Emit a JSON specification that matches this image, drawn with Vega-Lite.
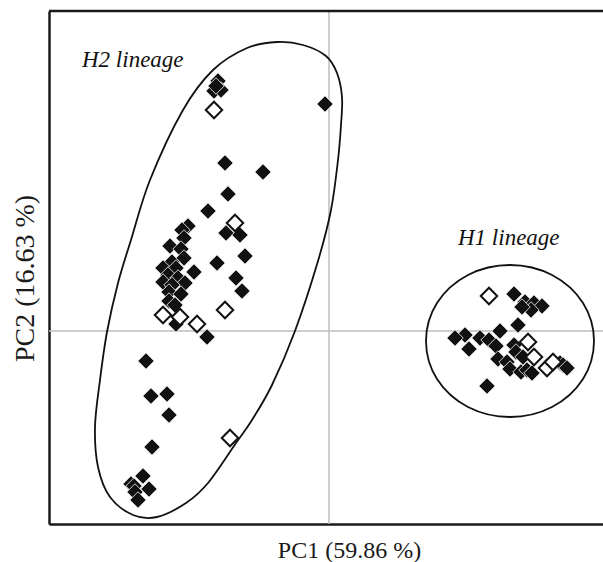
{
  "$schema": "https://vega.github.io/schema/vega-lite/v6.json",
  "width": 554,
  "height": 513,
  "autosize": {"type": "none"},
  "padding": {"left": 49, "top": 11, "right": 0, "bottom": 38},
  "background": "white",
  "config": {
    "view": {"stroke": null},
    "font": "Liberation Serif",
    "axis": {"ticks": false, "labels": false, "grid": false, "domainColor": "#1a1a1a", "domainWidth": 2.5,
      "titleFont": "Liberation Serif", "titleFontWeight": "normal", "titleColor": "#1a1a1a", "titleBaseline": "alphabetic", "titleAlign": "center"},
    "axisX": {"titleFontSize": 24, "titleX": 300, "titleY": 33},
    "axisY": {"titleFontSize": 28, "titleX": -16, "titleY": 267, "titleAngle": -90}
  },
  "datasets": {
    "pts": [
      {"x": -1.11, "y": 2.50, "type": "filled"},
      {"x": -1.15, "y": 2.40, "type": "filled"},
      {"x": -1.08, "y": 2.41, "type": "filled"},
      {"x": -1.13, "y": 2.45, "type": "filled"},
      {"x": -0.04, "y": 2.27, "type": "filled"},
      {"x": -1.04, "y": 1.68, "type": "filled"},
      {"x": -0.66, "y": 1.59, "type": "filled"},
      {"x": -1.01, "y": 1.37, "type": "filled"},
      {"x": -1.21, "y": 1.20, "type": "filled"},
      {"x": -1.03, "y": 0.98, "type": "filled"},
      {"x": -0.89, "y": 0.96, "type": "filled"},
      {"x": -1.41, "y": 1.05, "type": "filled"},
      {"x": -1.47, "y": 1.01, "type": "filled"},
      {"x": -1.45, "y": 0.93, "type": "filled"},
      {"x": -1.59, "y": 0.85, "type": "filled"},
      {"x": -1.48, "y": 0.82, "type": "filled"},
      {"x": -1.45, "y": 0.73, "type": "filled"},
      {"x": -1.12, "y": 0.68, "type": "filled"},
      {"x": -0.84, "y": 0.75, "type": "filled"},
      {"x": -1.57, "y": 0.69, "type": "filled"},
      {"x": -1.66, "y": 0.63, "type": "filled"},
      {"x": -1.53, "y": 0.63, "type": "filled"},
      {"x": -1.35, "y": 0.59, "type": "filled"},
      {"x": -1.61, "y": 0.56, "type": "filled"},
      {"x": -1.66, "y": 0.49, "type": "filled"},
      {"x": -1.51, "y": 0.53, "type": "filled"},
      {"x": -1.44, "y": 0.48, "type": "filled"},
      {"x": -0.93, "y": 0.53, "type": "filled"},
      {"x": -0.87, "y": 0.40, "type": "filled"},
      {"x": -1.57, "y": 0.46, "type": "filled"},
      {"x": -1.60, "y": 0.39, "type": "filled"},
      {"x": -1.48, "y": 0.37, "type": "filled"},
      {"x": -1.60, "y": 0.30, "type": "filled"},
      {"x": -1.54, "y": 0.26, "type": "filled"},
      {"x": -1.53, "y": 0.07, "type": "filled"},
      {"x": -1.22, "y": -0.06, "type": "filled"},
      {"x": -1.83, "y": -0.30, "type": "filled"},
      {"x": -1.78, "y": -0.65, "type": "filled"},
      {"x": -1.62, "y": -0.63, "type": "filled"},
      {"x": -1.60, "y": -0.84, "type": "filled"},
      {"x": -1.77, "y": -1.16, "type": "filled"},
      {"x": -1.86, "y": -1.45, "type": "filled"},
      {"x": -1.98, "y": -1.53, "type": "filled"},
      {"x": -1.95, "y": -1.55, "type": "filled"},
      {"x": -1.80, "y": -1.58, "type": "filled"},
      {"x": -1.94, "y": -1.61, "type": "filled"},
      {"x": -1.91, "y": -1.69, "type": "filled"},
      {"x": 1.85, "y": 0.37, "type": "filled"},
      {"x": 1.96, "y": 0.29, "type": "filled"},
      {"x": 2.05, "y": 0.28, "type": "filled"},
      {"x": 2.13, "y": 0.25, "type": "filled"},
      {"x": 2.02, "y": 0.21, "type": "filled"},
      {"x": 1.93, "y": 0.24, "type": "filled"},
      {"x": 1.89, "y": 0.06, "type": "filled"},
      {"x": 1.71, "y": 0.00, "type": "filled"},
      {"x": 1.36, "y": -0.04, "type": "filled"},
      {"x": 1.26, "y": -0.07, "type": "filled"},
      {"x": 1.40, "y": -0.18, "type": "filled"},
      {"x": 1.51, "y": -0.07, "type": "filled"},
      {"x": 1.60, "y": -0.09, "type": "filled"},
      {"x": 1.67, "y": -0.15, "type": "filled"},
      {"x": 1.69, "y": -0.28, "type": "filled"},
      {"x": 1.85, "y": -0.14, "type": "filled"},
      {"x": 1.87, "y": -0.21, "type": "filled"},
      {"x": 1.94, "y": -0.26, "type": "filled"},
      {"x": 1.78, "y": -0.31, "type": "filled"},
      {"x": 1.81, "y": -0.38, "type": "filled"},
      {"x": 1.92, "y": -0.41, "type": "filled"},
      {"x": 1.98, "y": -0.39, "type": "filled"},
      {"x": 2.03, "y": -0.42, "type": "filled"},
      {"x": 2.31, "y": -0.32, "type": "filled"},
      {"x": 2.34, "y": -0.34, "type": "filled"},
      {"x": 2.38, "y": -0.37, "type": "filled"},
      {"x": 1.58, "y": -0.55, "type": "filled"},
      {"x": -1.15, "y": 2.21, "type": "open"},
      {"x": -0.94, "y": 1.08, "type": "open"},
      {"x": -1.04, "y": 0.21, "type": "open"},
      {"x": -1.66, "y": 0.16, "type": "open"},
      {"x": -1.49, "y": 0.14, "type": "open"},
      {"x": -1.32, "y": 0.07, "type": "open"},
      {"x": -0.99, "y": -1.07, "type": "open"},
      {"x": 1.60, "y": 0.35, "type": "open"},
      {"x": 1.99, "y": -0.11, "type": "open"},
      {"x": 2.05, "y": -0.26, "type": "open"},
      {"x": 2.18, "y": -0.37, "type": "open"},
      {"x": 2.24, "y": -0.31, "type": "open"}
    ],
    "ell": [
      {"g": "H2", "i": 0, "x": -0.52, "y": 2.89},
      {"g": "H2", "i": 1, "x": -0.26, "y": 2.86},
      {"g": "H2", "i": 2, "x": -0.03, "y": 2.75},
      {"g": "H2", "i": 3, "x": 0.08, "y": 2.58},
      {"g": "H2", "i": 4, "x": 0.13, "y": 2.34},
      {"g": "H2", "i": 5, "x": 0.12, "y": 2.06},
      {"g": "H2", "i": 6, "x": 0.09, "y": 1.71},
      {"g": "H2", "i": 7, "x": 0.02, "y": 1.21},
      {"g": "H2", "i": 8, "x": -0.11, "y": 0.70},
      {"g": "H2", "i": 9, "x": -0.34, "y": 0.00},
      {"g": "H2", "i": 10, "x": -0.57, "y": -0.54},
      {"g": "H2", "i": 11, "x": -0.77, "y": -0.89},
      {"g": "H2", "i": 12, "x": -0.93, "y": -1.12},
      {"g": "H2", "i": 13, "x": -1.21, "y": -1.52},
      {"g": "H2", "i": 14, "x": -1.43, "y": -1.72},
      {"g": "H2", "i": 15, "x": -1.72, "y": -1.86},
      {"g": "H2", "i": 16, "x": -1.96, "y": -1.84},
      {"g": "H2", "i": 17, "x": -2.19, "y": -1.66},
      {"g": "H2", "i": 18, "x": -2.31, "y": -1.36},
      {"g": "H2", "i": 19, "x": -2.34, "y": -0.96},
      {"g": "H2", "i": 20, "x": -2.29, "y": -0.49},
      {"g": "H2", "i": 21, "x": -2.22, "y": -0.01},
      {"g": "H2", "i": 22, "x": -2.11, "y": 0.48},
      {"g": "H2", "i": 23, "x": -1.98, "y": 0.91},
      {"g": "H2", "i": 24, "x": -1.79, "y": 1.51},
      {"g": "H2", "i": 25, "x": -1.46, "y": 2.21},
      {"g": "H2", "i": 26, "x": -1.16, "y": 2.61},
      {"g": "H2", "i": 27, "x": -0.82, "y": 2.83},
      {"g": "H1", "i": 0, "x": 2.65, "y": -0.10},
      {"g": "H1", "i": 1, "x": 2.54, "y": 0.28},
      {"g": "H1", "i": 2, "x": 2.23, "y": 0.56},
      {"g": "H1", "i": 3, "x": 1.81, "y": 0.66},
      {"g": "H1", "i": 4, "x": 1.39, "y": 0.56},
      {"g": "H1", "i": 5, "x": 1.08, "y": 0.28},
      {"g": "H1", "i": 6, "x": 0.97, "y": -0.10},
      {"g": "H1", "i": 7, "x": 1.08, "y": -0.48},
      {"g": "H1", "i": 8, "x": 1.39, "y": -0.76},
      {"g": "H1", "i": 9, "x": 1.81, "y": -0.86},
      {"g": "H1", "i": 10, "x": 2.23, "y": -0.76},
      {"g": "H1", "i": 11, "x": 2.54, "y": -0.48}
    ],
    "lab": [
      {"x": -2.47, "y": 2.64, "label": "H2 lineage"},
      {"x": 1.29, "y": 0.86, "label": "H1 lineage"}
    ]
  },
  "layer": [
    {
      "data": {"values": [{}]},
      "mark": {"type": "rule", "color": "#bdbdbd", "strokeWidth": 1.5},
      "encoding": {
        "x": {"datum": 0, "type": "quantitative", "scale": {"domain": [-2.80, 2.74], "nice": false, "zero": false}, "title": "PC1 (59.86 %)"}
      }
    },
    {
      "data": {"values": [{}]},
      "mark": {"type": "rule", "color": "#bdbdbd", "strokeWidth": 1.5},
      "encoding": {
        "y": {"datum": 0, "type": "quantitative", "scale": {"domain": [-1.93, 3.20], "nice": false, "zero": false}, "title": "PC2 (16.63 %)"}
      }
    },
    {
      "data": {"values": [{}]},
      "mark": {"type": "rule", "color": "#1a1a1a", "strokeWidth": 2.5},
      "encoding": {
        "y": {"datum": 3.20, "type": "quantitative", "scale": {"domain": [-1.93, 3.20], "nice": false, "zero": false}, "title": "PC2 (16.63 %)"}
      }
    },
    {
      "data": {"name": "ell"},
      "mark": {"type": "line", "interpolate": "cardinal-closed", "color": "#111111", "strokeWidth": 1.8},
      "encoding": {
        "x": {"field": "x", "type": "quantitative", "scale": {"domain": [-2.80, 2.74], "nice": false, "zero": false}, "title": "PC1 (59.86 %)"},
        "y": {"field": "y", "type": "quantitative", "scale": {"domain": [-1.93, 3.20], "nice": false, "zero": false}, "title": "PC2 (16.63 %)"},
        "detail": {"field": "g"},
        "order": {"field": "i", "type": "quantitative"}
      }
    },
    {
      "data": {"name": "pts"},
      "mark": {"type": "point", "shape": "diamond", "filled": true, "size": 270, "opacity": 1},
      "encoding": {
        "x": {"field": "x", "type": "quantitative", "scale": {"domain": [-2.80, 2.74], "nice": false, "zero": false}, "title": "PC1 (59.86 %)"},
        "y": {"field": "y", "type": "quantitative", "scale": {"domain": [-1.93, 3.20], "nice": false, "zero": false}, "title": "PC2 (16.63 %)"},
        "fill": {"field": "type", "type": "nominal", "scale": {"domain": ["filled", "open"], "range": ["#111111", "white"]}, "legend": null},
        "stroke": {"field": "type", "type": "nominal", "scale": {"domain": ["filled", "open"], "range": ["white", "#111111"]}, "legend": null},
        "strokeWidth": {"field": "type", "type": "nominal", "scale": {"domain": ["filled", "open"], "range": [0.8, 2]}, "legend": null}
      }
    },
    {
      "data": {"name": "lab"},
      "mark": {"type": "text", "align": "left", "baseline": "alphabetic", "font": "Liberation Serif", "fontStyle": "italic", "fontSize": 23, "color": "#111111"},
      "encoding": {
        "x": {"field": "x", "type": "quantitative", "scale": {"domain": [-2.80, 2.74], "nice": false, "zero": false}, "title": "PC1 (59.86 %)"},
        "y": {"field": "y", "type": "quantitative", "scale": {"domain": [-1.93, 3.20], "nice": false, "zero": false}, "title": "PC2 (16.63 %)"},
        "text": {"field": "label"}
      }
    }
  ]
}
